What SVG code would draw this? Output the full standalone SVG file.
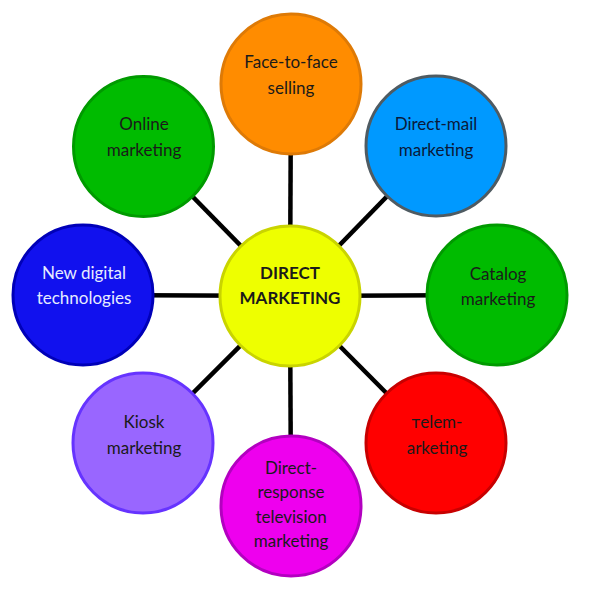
<svg xmlns="http://www.w3.org/2000/svg" width="590" height="611" viewBox="0 0 590 611">
<style>
.n{stroke-width:3}
.t{font-family:Lato,"Open Sans","Liberation Sans",sans-serif;font-size:17px;text-anchor:middle;fill:#1a1a1a}
.c{stroke:#000;stroke-width:4.5}
</style>
<rect width="590" height="611" fill="#fff"/>
<g id="connectors" class="c">
<line x1="290" y1="296" x2="291" y2="84"/>
<line x1="290" y1="296" x2="436" y2="146"/>
<line x1="290" y1="296" x2="497" y2="295"/>
<line x1="290" y1="296" x2="436" y2="443"/>
<line x1="290" y1="296" x2="291" y2="506"/>
<line x1="290" y1="296" x2="143" y2="443"/>
<line x1="290" y1="296" x2="83" y2="295"/>
<line x1="290" y1="296" x2="143.5" y2="146.5"/>
</g>
<g id="face-to-face">
<circle class="n" cx="291" cy="84" r="70" fill="#FF8C00" stroke="#DE7A06"/>
<text class="t" x="291" y="68">Face-to-face</text>
<text class="t" x="291" y="94">selling</text>
</g>
<g id="direct-mail">
<circle class="n" cx="436" cy="146" r="70" fill="#0099FF" stroke="#4F5B62"/>
<text class="t" x="436" y="130" style="fill:#0a1a3a">Direct-mail</text>
<text class="t" x="436" y="156" style="fill:#0a1a3a">marketing</text>
</g>
<g id="catalog">
<circle class="n" cx="497" cy="295" r="70" fill="#00BB00" stroke="#009A00"/>
<text class="t" x="498" y="280">Catalog</text>
<text class="t" x="498" y="305">marketing</text>
</g>
<g id="telemarketing">
<circle class="n" cx="436" cy="443" r="70" fill="#FF0000" stroke="#C80000"/>
<text class="t" x="437" y="428">тelem-</text>
<text class="t" x="437" y="454">arketing</text>
</g>
<g id="direct-response">
<circle class="n" cx="291" cy="506" r="70" fill="#EE00EE" stroke="#B300C0"/>
<text class="t" x="291" y="474">Direct-</text>
<text class="t" x="291" y="498">response</text>
<text class="t" x="291" y="523">television</text>
<text class="t" x="291" y="547">marketing</text>
</g>
<g id="kiosk">
<circle class="n" cx="143" cy="443" r="70" fill="#9966FF" stroke="#6633FF"/>
<text class="t" x="144" y="428">Kiosk</text>
<text class="t" x="144" y="454">marketing</text>
</g>
<g id="new-digital">
<circle class="n" cx="83" cy="295" r="70" fill="#1111EE" stroke="#0000B8"/>
<text class="t" x="84" y="279" style="fill:#E6ECFF">New digital</text>
<text class="t" x="84" y="304" style="fill:#E6ECFF">technologies</text>
</g>
<g id="online">
<circle class="n" cx="143.5" cy="146.5" r="70" fill="#00BB00" stroke="#009A00"/>
<text class="t" x="144" y="130">Online</text>
<text class="t" x="144" y="156">marketing</text>
</g>
<g id="center">
<circle class="n" cx="290" cy="296" r="70" fill="#EEFF00" stroke="#C9D400"/>
<text class="t" x="290" y="279" style="font-weight:bold">DIRECT</text>
<text class="t" x="290" y="304" style="font-weight:bold">MARKETING</text>
</g>
</svg>
